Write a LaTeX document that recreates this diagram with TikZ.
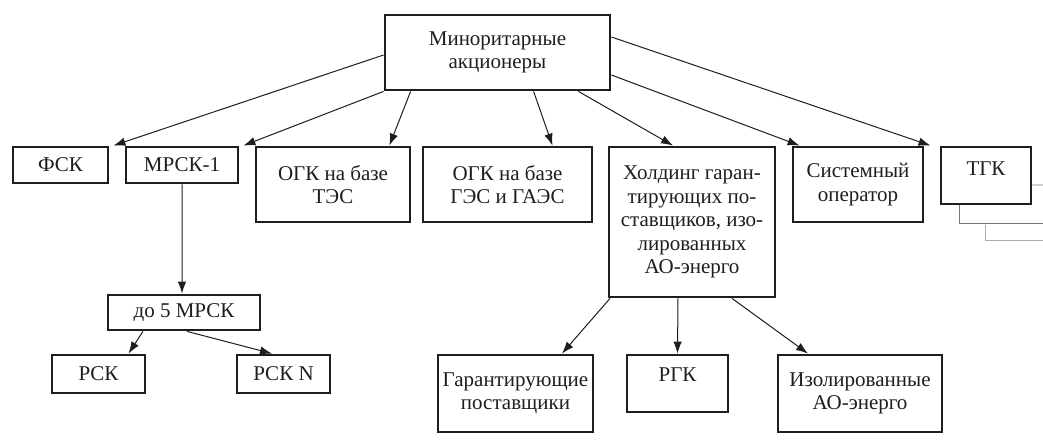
\documentclass[tikz,border=0pt]{standalone}
\usepackage{fontspec}
\setmainfont{Liberation Serif}
\usetikzlibrary{arrows.meta}
\definecolor{ink}{HTML}{1E1E1E}
\definecolor{faint}{HTML}{777777}
\tikzset{
  box/.style={draw=ink, line width=2.8bp, inner sep=0pt, align=center, text=ink,
    font=\fontsize{21bp}{23.5bp}\selectfont},
  arr/.style={draw=ink, line width=1bp, -{Latex[length=12bp,width=8.5bp]}},
  stack/.style={draw=faint, line width=0.8bp},
}
\begin{document}
\begin{tikzpicture}[x=1bp,y=-1bp]
\useasboundingbox (0,0) rectangle (1043,441);
\fill[white] (0,0) rectangle (1043,441);
% top row
\node[box, minimum width=225bp, minimum height=75bp] (top) at (497.5,52.5) {Миноритарные\\акционеры};
\node[box, minimum width=95bp, minimum height=36bp] (fsk) at (60.5,165) {ФСК};
\node[box, minimum width=112bp, minimum height=36bp] (mrsk1) at (182,165) {МРСК-1};
\node[box, minimum width=154bp, minimum height=75bp] (ogk1) at (333,184.5) {ОГК на базе\\ТЭС};
\node[box, minimum width=169bp, minimum height=75bp] (ogk2) at (507.5,184.5) {ОГК на базе\\ГЭС и ГАЭС};
\node[box, minimum width=166bp, minimum height=150bp] (hold) at (692,222) {Холдинг гаран-\\тирующих по-\\ставщиков, изо-\\лированных\\АО-энерго};
\node[box, minimum width=130bp, minimum height=75bp] (so) at (858,184.5) {Системный\\оператор};
\node[box, minimum width=90bp, minimum height=57bp, text depth=14bp] (tgk) at (986,175.5) {ТГК};
% lower left
\node[box, minimum width=152bp, minimum height=35bp] (mrsk5) at (184,312.5) {до 5 МРСК};
\node[box, minimum width=93bp, minimum height=38bp] (rsk) at (98.5,374) {РСК};
\node[box, minimum width=93bp, minimum height=38bp] (rskn) at (283.5,374) {РСК N};
% lower right
\node[box, minimum width=155bp, minimum height=77bp] (gp) at (515.5,393.5) {Гарантирующие\\поставщики};
\node[box, minimum width=101bp, minimum height=57bp, text depth=18bp] (rgk) at (677.5,383.5) {РГК};
\node[box, minimum width=164bp, minimum height=77bp] (iso) at (860,393.5) {Изолированные\\АО-энерго};
% stacked boxes behind ТГК
\coordinate (s1) at (1043,185);
\coordinate (s2) at (1043,223);
\coordinate (s3) at (985,225);
\coordinate (s4) at (1043,240);
\draw[stack] ([yshift=-9.5bp]tgk.east) -- (s1);
\draw[stack] ([xshift=-27bp]tgk.south) |- (s2);
\draw[stack, draw=faint!60] (s3) |- (s4);
% connectors
\draw[arr] ([yshift=-2.5bp]top.west) -- ([xshift=4bp]fsk.north east);
\draw[arr] (top.south west) -- ([xshift=4bp]mrsk1.north east);
\draw[arr] ([xshift=27bp]top.south west) -- ([xshift=-22bp]ogk1.north east);
\draw[arr] ([xshift=150bp]top.south west) -- ([xshift=45bp]ogk2.north);
\draw[arr] ([xshift=-33bp]top.south east) -- ([xshift=-19bp]hold.north);
\draw[arr] ([yshift=-22.5bp]top.east) -- ([xshift=8bp]so.north west);
\draw[arr] ([yshift=15.5bp]top.east) -- ([xshift=-9bp]tgk.north west);
\draw[arr] (mrsk1.south) -- ([xshift=-2bp]mrsk5.north);
\draw[arr] ([xshift=-41bp]mrsk5.south) -- ([xshift=30bp]rsk.north);
\draw[arr] ([xshift=3bp]mrsk5.south) -- ([xshift=-11.5bp]rskn.north);
\draw[arr] ([xshift=-82bp]hold.south) -- ([xshift=46.5bp]gp.north);
\draw[arr] ([xshift=-14bp]hold.south) -- ([xshift=0bp]rgk.north);
\draw[arr] ([xshift=40bp]hold.south) -- ([xshift=-52bp]iso.north);
\end{tikzpicture}
\end{document}
